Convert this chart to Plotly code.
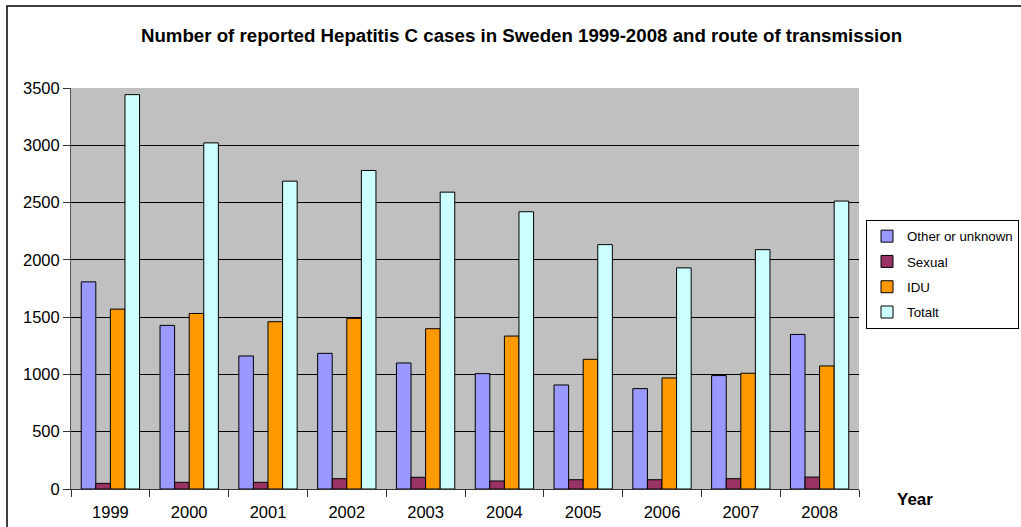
import plotly.graph_objects as go

years = ["1999", "2000", "2001", "2002", "2003", "2004", "2005", "2006", "2007", "2008"]
other = [1808, 1428, 1161, 1184, 1100, 1007, 908, 876, 990, 1349]
sexual = [49, 58, 58, 90, 102, 70, 81, 81, 90, 104]
idu = [1570, 1532, 1460, 1489, 1399, 1335, 1132, 969, 1010, 1074]
totalt = [3442, 3021, 2687, 2780, 2591, 2420, 2133, 1930, 2089, 2513]

series = [
    ("Other or unknown", other, "#9999FF"),
    ("Sexual", sexual, "#993366"),
    ("IDU", idu, "#FF9900"),
    ("Totalt", totalt, "#CCFFFF"),
]

fig = go.Figure()
for i, (name, vals, col) in enumerate(series):
    fig.add_trace(go.Bar(
        x=years, y=vals, name=name, legendgroup=f"g{i}",
        marker=dict(color=col, line=dict(color="black", width=1)),
    ))

L, R, T, B = 71, 162, 88, 38
W, H = 1021, 527
pw, ph = W - L - R, H - T - B

def px_x(p):
    return (p - L) / pw

def px_y(p):
    return (H - B - p) / ph

fig.update_layout(
    width=W, height=H,
    margin=dict(l=L, r=R, t=T, b=B, autoexpand=False),
    paper_bgcolor="white",
    plot_bgcolor="#C0C0C0",
    font=dict(family="Liberation Sans, Arial, sans-serif", size=14, color="black"),
    barmode="group",
    bargap=0.26,
    bargroupgap=0,
    title=dict(
        text="<b>Number of reported Hepatitis C cases in Sweden 1999-2008 and route of transmission</b>",
        x=521.5 / W, xref="container", xanchor="center",
        y=1 - 35 / H, yref="container", yanchor="middle",
        font=dict(size=18.7, color="black"),
    ),
    xaxis=dict(
        type="category",
        tickson="boundaries",
        ticks="outside", ticklen=7, tickcolor="#333333",
        ticklabelstandoff=8,
        showline=True, linecolor="#333333", linewidth=1,
        showgrid=False,
        tickfont=dict(size=16.5),
    ),
    yaxis=dict(
        range=[0, 3500],
        tickvals=[0, 500, 1000, 1500, 2000, 2500, 3000, 3500],
        ticks="outside", ticklen=7, tickcolor="#333333",
        showline=True, linecolor="#555555", linewidth=1,
        showgrid=True, gridcolor="black", gridwidth=1,
        zeroline=False,
        tickfont=dict(size=16.5),
    ),
    legend=dict(
        x=px_x(866), xanchor="left",
        y=px_y(220), yanchor="top",
        bgcolor="white",
        bordercolor="black", borderwidth=1,
        font=dict(size=13.3),
        tracegroupgap=5,
        traceorder="grouped",
    ),
    annotations=[dict(
        text="<b>Year</b>", x=px_x(915), y=px_y(499),
        xref="paper", yref="paper", showarrow=False,
        font=dict(size=17), xanchor="center", yanchor="middle",
    )],
    shapes=[dict(
        type="rect", xref="paper", yref="paper",
        x0=px_x(7), x1=px_x(1040), y0=px_y(540), y1=px_y(6),
        line=dict(color="black", width=1.5), layer="below",
    )],
)

fig.write_html("out.html", config={"displayModeBar": False},
               post_script="document.body.style.margin='0px';")
